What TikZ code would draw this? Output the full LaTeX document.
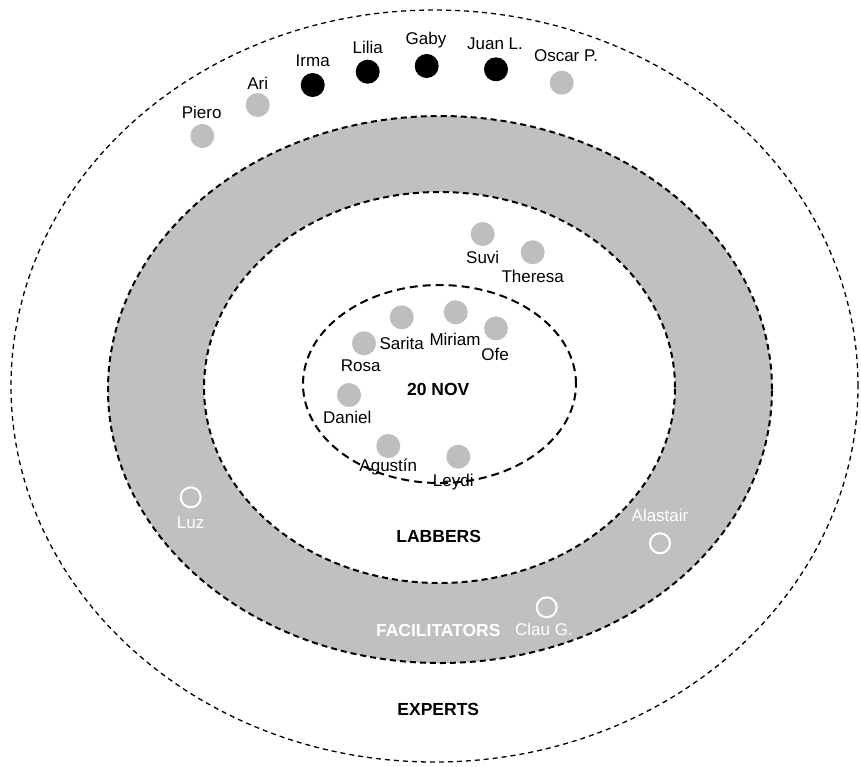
\documentclass[tikz,border=0pt]{standalone}
\usepackage{fontspec}
\setmainfont{Liberation Sans}
\definecolor{ringgray}{RGB}{192,192,192}
\definecolor{dotgray}{RGB}{190,190,190}
\tikzset{
  every node/.style={font=\fontsize{17}{20}\selectfont, inner sep=0pt},
  gdot/.style={circle, fill=dotgray, minimum size=24pt},
  bdot/.style={circle, fill=black, minimum size=24pt},
  wdot/.style={circle, draw=white, line width=2pt, minimum size=20pt},
  lbl/.style={text=black},
  wlbl/.style={text=white},
  title/.style={font=\fontsize{17.5}{20}\selectfont\bfseries},
  outerdash/.style={line width=1.3pt, dash pattern=on 5pt off 4pt},
  ringdash/.style={line width=2pt, dash pattern=on 6pt off 4pt},
  innerdash/.style={line width=2pt, dash pattern=on 8pt off 5pt},
}
\begin{document}
\begin{tikzpicture}[x=1pt,y=-1pt]
\useasboundingbox (0,0) rectangle (861,766);
% outer experts ellipse
\draw[outerdash] (434.5,386) ellipse [x radius=423.5pt, y radius=376pt];
% facilitators ring
\fill[ringgray] (440,389.5) ellipse [x radius=332pt, y radius=273.5pt];
\draw[ringdash] (440,389.5) ellipse [x radius=332pt, y radius=273.5pt];
\fill[white] (439.5,387.5) ellipse [x radius=235.5pt, y radius=195.5pt];
\draw[ringdash] (439.5,387.5) ellipse [x radius=235.5pt, y radius=195.5pt];
% 20 NOV ellipse
\draw[innerdash] (439.5,384) ellipse [x radius=136.5pt, y radius=99pt];

% titles
\node[title] (nov) at (438.3,389.3) {20 NOV};
\node[title] (labbers) at (438.7,536) {LABBERS};
\node[title, text=white] (facil) at (438.3,630) {FACILITATORS};
\node[title] (experts) at (438.3,709.3) {EXPERTS};

% experts (outer band)
\node[gdot] (piero) at (202.3,136) {};
\node[lbl] (pierol) at (201.7,112.7) {Piero};
\node[gdot] (ari) at (257.7,105) {};
\node[lbl] (aril) at (257.7,83) {Ari};
\node[bdot] (irma) at (312.7,85) {};
\node[lbl] (irmal) at (312.7,61) {Irma};
\node[bdot] (lilia) at (367.7,71.7) {};
\node[lbl] (lilial) at (367.7,47.3) {Lilia};
\node[bdot] (gaby) at (426.7,66) {};
\node[lbl] (gabyl) at (426,40) {Gaby};
\node[bdot] (juan) at (496,69.3) {};
\node[lbl] (juanl) at (495,43.3) {Juan L.};
\node[gdot] (oscar) at (561.7,82.7) {};
\node[lbl] (oscarl) at (566,56) {Oscar P.};

% facilitators
\node[wdot] (luz) at (190.7,497.3) {};
\node[wlbl] (luzl) at (190.7,522.3) {Luz};
\node[wdot] (clau) at (546.7,607.3) {};
\node[wlbl] (claul) at (544,629.3) {Clau G.};
\node[wdot] (alastair) at (660,543.3) {};
\node[wlbl] (alastairl) at (660,515) {Alastair};

% labbers
\node[gdot] (suvi) at (482.7,234) {};
\node[lbl] (suvil) at (482.7,257.3) {Suvi};
\node[gdot] (theresa) at (532.7,252.3) {};
\node[lbl] (theresal) at (532.7,276) {Theresa};

% 20 NOV group
\node[gdot] (sarita) at (401.7,317.3) {};
\node[lbl] (sarital) at (401.7,343.3) {Sarita};
\node[gdot] (miriam) at (455.7,312.3) {};
\node[lbl] (miriaml) at (455,339.3) {Miriam};
\node[gdot] (ofe) at (496,328.3) {};
\node[lbl] (ofel) at (495,354) {Ofe};
\node[gdot] (rosa) at (364,343.3) {};
\node[lbl] (rosal) at (360.7,366) {Rosa};
\node[gdot] (daniel) at (349,395) {};
\node[lbl] (daniell) at (347.3,417.3) {Daniel};
\node[gdot] (agustin) at (388.3,446) {};
\node[lbl] (agustinl) at (388.3,467.3) {Agustín};
\node[gdot] (leydi) at (458.3,456.7) {};
\node[lbl] (leydil) at (453.3,481.7) {Leydi};
\end{tikzpicture}
\end{document}
